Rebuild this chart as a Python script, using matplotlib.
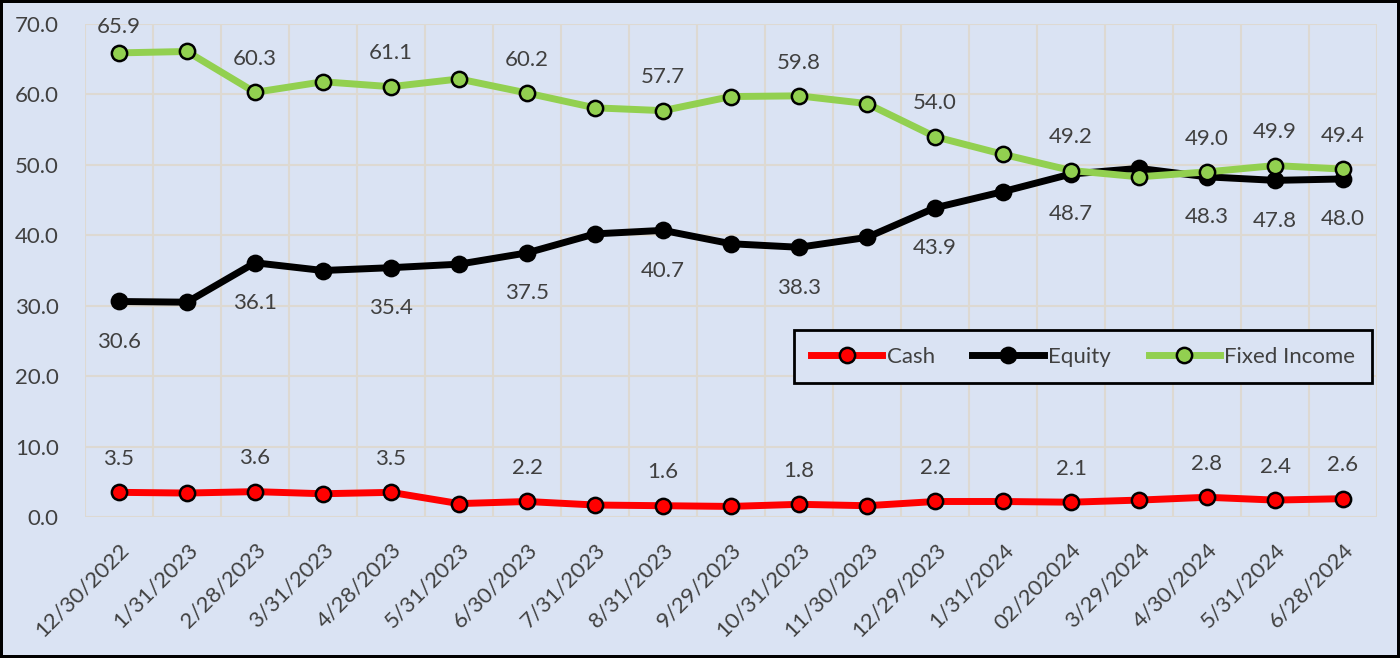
import matplotlib.pyplot as plt
import numpy as np

dates = ['12/30/2022', '1/31/2023', '2/28/2023', '3/31/2023', '4/28/2023', '5/31/2023',
         '6/30/2023', '7/31/2023', '8/31/2023', '9/29/2023', '10/31/2023', '11/30/2023',
         '12/29/2023', '1/31/2024', '02/202024', '3/29/2024', '4/30/2024', '5/31/2024',
         '6/28/2024']
cash = [3.5, 3.4, 3.6, 3.3, 3.5, 1.9, 2.2, 1.7, 1.6, 1.5, 1.8, 1.6, 2.2, 2.2, 2.1, 2.4, 2.8, 2.4, 2.6]
equity = [30.6, 30.5, 36.1, 35.0, 35.4, 35.9, 37.5, 40.2, 40.7, 38.8, 38.3, 39.7, 43.9, 46.2,
          48.7, 49.5, 48.3, 47.8, 48.0]
fixed_income = [65.9, 66.1, 60.3, 61.8, 61.1, 62.2, 60.2, 58.1, 57.7, 59.7, 59.8, 58.7, 54.0,
                51.5, 49.2, 48.3, 49.0, 49.9, 49.4]
labelled = [0, 2, 4, 6, 8, 10, 12, 14, 16, 17, 18]

bg = '#DAE3F3'
txt = '#404040'
plt.rcParams['font.family'] = ['Lato', 'DejaVu Sans']

fig = plt.figure(figsize=(14, 6.58), dpi=100)
fig.patch.set_facecolor(bg)
fig.patch.set_edgecolor('black')
fig.patch.set_linewidth(4)
ax = fig.add_axes([0.0607, 0.2143, 0.9229, 0.7492])
ax.set_facecolor(bg)

x = np.arange(len(dates))
ax.plot(x, cash, color='#FF0000', lw=5, marker='o', ms=11, mfc='#FF0000', mec='black',
        mew=1.8, label='Cash', zorder=3)
ax.plot(x, equity, color='black', lw=5, marker='o', ms=11, mfc='black', mec='black',
        mew=1.8, label='Equity', zorder=3)
ax.plot(x, fixed_income, color='#92D050', lw=5, marker='o', ms=11, mfc='#92D050', mec='black',
        mew=1.8, label='Fixed Income', zorder=4)

for i in labelled:
    up = 19 if fixed_income[i] > 65 else 24
    ax.annotate(f'{fixed_income[i]:.1f}', (x[i], fixed_income[i]), xytext=(0, up),
                textcoords='offset points', ha='center', va='center', fontsize=16, color=txt)
    ax.annotate(f'{equity[i]:.1f}', (x[i], equity[i]), xytext=(0, -29),
                textcoords='offset points', ha='center', va='center', fontsize=16, color=txt)
    ax.annotate(f'{cash[i]:.1f}', (x[i], cash[i]), xytext=(0, 24),
                textcoords='offset points', ha='center', va='center', fontsize=16, color=txt)

ax.set_xlim(-0.5, len(dates) - 0.5)
ax.set_ylim(0, 70)
ax.set_yticks(np.arange(0, 71, 10))
ax.set_yticklabels([f'{v:.1f}' for v in np.arange(0, 71, 10)])
ax.set_xticks(x)
ax.set_xticklabels(dates, rotation=45, ha='right', rotation_mode='anchor')
ax.set_xticks(np.arange(-0.5, len(dates), 1), minor=True)
ax.tick_params(axis='both', which='both', length=0, labelsize=16, labelcolor=txt)
ax.tick_params(axis='y', pad=19)
ax.tick_params(axis='x', pad=16)
ax.grid(True, which='minor', axis='x', color='#DDD9D2', lw=1.5)
ax.grid(True, which='major', axis='y', color='#DDD9D2', lw=1.5)
ax.set_axisbelow(True)
for s in ax.spines.values():
    s.set_visible(False)

leg = ax.legend(loc='upper left', bbox_to_anchor=(0.549, 0.379), ncol=3, frameon=True,
                fontsize=16, handlelength=3.2, handletextpad=0.2, columnspacing=1.7,
                borderpad=0.75, borderaxespad=0, fancybox=False, labelcolor=txt)
leg.get_frame().set_facecolor(bg)
leg.get_frame().set_edgecolor('black')
leg.get_frame().set_linewidth(2)
leg.get_frame().set_alpha(1)

fig.savefig('out.png', dpi=100, facecolor=fig.get_facecolor(), edgecolor=fig.get_edgecolor())
